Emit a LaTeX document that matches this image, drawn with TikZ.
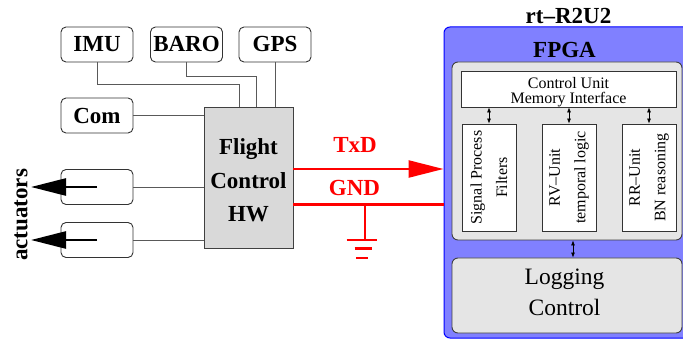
\documentclass[tikz,border=0pt]{standalone}
\usepackage{fontspec}
\setmainfont{Liberation Serif}
\usetikzlibrary{arrows.meta,calc}
\definecolor{fpgablue}{RGB}{128,128,255}
\definecolor{lightgr}{RGB}{229,229,229}
\definecolor{fcgray}{RGB}{217,217,217}
\begin{document}
\begin{tikzpicture}[x=1pt,y=-1pt,
  bigbold/.style={font=\rmfamily\bfseries\fontsize{23}{25}\selectfont},
  sbox/.style={draw=black!80, line width=0.9pt, rounded corners=5pt, minimum width=72pt,
    minimum height=35pt, inner sep=0pt, fill=white, bigbold},
  wire/.style={draw=black!65, line width=0.9pt},
  actarrow/.style={line width=2.6pt, -{Triangle[length=35pt,width=17pt]}},
  redw/.style={draw=red, line width=2.4pt},
  unitbox/.style={draw=black!80, fill=white, line width=0.8pt, inner sep=0pt},
  graybox/.style={draw=black!75, fill=lightgr, line width=0.9pt, rounded corners=6pt, inner sep=0pt},
  smalltext/.style={font=\rmfamily\fontsize{16}{25.5}\selectfont, align=center, inner sep=0pt},
  dbl/.style={line width=0.7pt, {Latex[length=5pt,width=4pt]}-{Latex[length=5pt,width=4pt]}}
]
\useasboundingbox (0,0) rectangle (683,339);

% ---- left side ----
\node[sbox] (imu)  at (97,44.5)   {IMU};
\node[sbox] (baro) at (186.5,44.5) {BARO};
\node[sbox] (gps)  at (275,44.5)  {GPS};
\node[sbox] (com)  at (97,115.5)  {Com};
\node[sbox] (act1) at (97,187)    {};
\node[sbox] (act2) at (97,240)    {};

\node[draw=black!75, fill=fcgray, line width=0.9pt, minimum width=89pt, minimum height=141pt,
      inner sep=0pt] (fc) at (248.5,177.5) {};
\node[align=center, font=\rmfamily\bfseries\fontsize{23}{33.5}\selectfont, inner sep=0pt]
      (fctext) at (248.5,180.5) {Flight\\Control\\HW};

\coordinate (fcI) at ($(fc.north west)+(36,0)$);
\coordinate (fcB) at ($(fc.north west)+(53,0)$);
\draw[wire] (imu.south) -- ++(0,22) -| (fcI);
\draw[wire] (baro.south) -- ++(0,14) -| (fcB);
\draw[wire] (gps.south) -- (gps.south |- fc.north);
\draw[wire] (com.east) -- (com.east -| fc.west);
\draw[wire] (act1.east) -- (act1.east -| fc.west);
\draw[wire] (act2.east) -- (act2.east -| fc.west);

\coordinate (tip1) at (31,187);
\coordinate (tip2) at (31,240);
\draw[actarrow] (act1.center) -- (tip1);
\draw[actarrow] (act2.center) -- (tip2);
\node[bigbold, rotate=90, inner sep=0pt] (actl) at (21,215) {actuators};

% ---- FPGA ----
\node[draw=blue, fill=fpgablue, line width=1pt, rounded corners=6pt, minimum width=246pt,
      minimum height=311pt, inner sep=0pt] (fpga) at (567,182.5) {};
\node[bigbold, inner sep=0pt] (rt) at (568.5,16.5) {rt--R2U2};
\node[bigbold, inner sep=0pt] (fpgal) at (564.5,50.5) {FPGA};

\node[graybox, minimum width=230pt, minimum height=178pt] (inner) at (567,151) {};
\node[unitbox, minimum width=215pt, minimum height=36pt] (ctl) at (568.5,89) {};
\node[smalltext, font=\rmfamily\fontsize{16}{14.5}\selectfont] (ctltext) at (568.5,92)
      {Control Unit\\Memory Interface};

\node[unitbox, minimum width=54pt, minimum height=107pt] (sig) at (489,177.5) {};
\node[unitbox, minimum width=54pt, minimum height=107pt] (rv)  at (569,177.5) {};
\node[unitbox, minimum width=54pt, minimum height=107pt] (rr)  at (649,177.5) {};
\node[smalltext, rotate=90] (sigt) at (sig.center) {Signal Process\\Filters};
\node[smalltext, rotate=90] (rvt)  at (rv.center)  {RV--Unit\\temporal logic};
\node[smalltext, rotate=90] (rrt)  at (rr.center)  {RR--Unit\\BN reasoning};

\draw[dbl] (ctl.south -| sig.north) -- (sig.north);
\draw[dbl] (ctl.south -| rv.north) -- (rv.north);
\draw[dbl] (ctl.south -| rr.north) -- (rr.north);

\node[graybox, minimum width=230pt, minimum height=75pt] (logbox) at (567,295.5) {};
\node[align=center, font=\rmfamily\fontsize{23.5}{31}\selectfont, inner sep=0pt] (logt) at (564.5,292.5)
      {Logging\\Control};
\draw[dbl] ($(inner.south)+(6,0)$) -- ($(logbox.north)+(6,0)$);

% ---- red link ----
\coordinate (txs) at ($(fc.east)+(0,-8.5)$);
\coordinate (gnds) at ($(fc.east)+(0,27)$);
\draw[redw, -{Triangle[length=35pt,width=17pt]}] (txs) -- (txs -| fpga.west);
\draw[redw] (gnds) -- (gnds -| fpga.west);
\node[bigbold, text=red, inner sep=0pt] (txl) at (355,145) {TxD};
\node[bigbold, text=red, inner sep=0pt] (gndl) at (354.5,187.5) {GND};
\coordinate (gtap) at (365,204.5);
\coordinate (gnd) at (365,240);
\draw[redw] (gtap) -- (gnd);
\draw[redw] (346.5,240) -- (377,240);
\draw[redw] (354.5,248.5) -- (372,248.5);
\draw[redw] (356,258) -- (368,258);
\end{tikzpicture}
\end{document}
